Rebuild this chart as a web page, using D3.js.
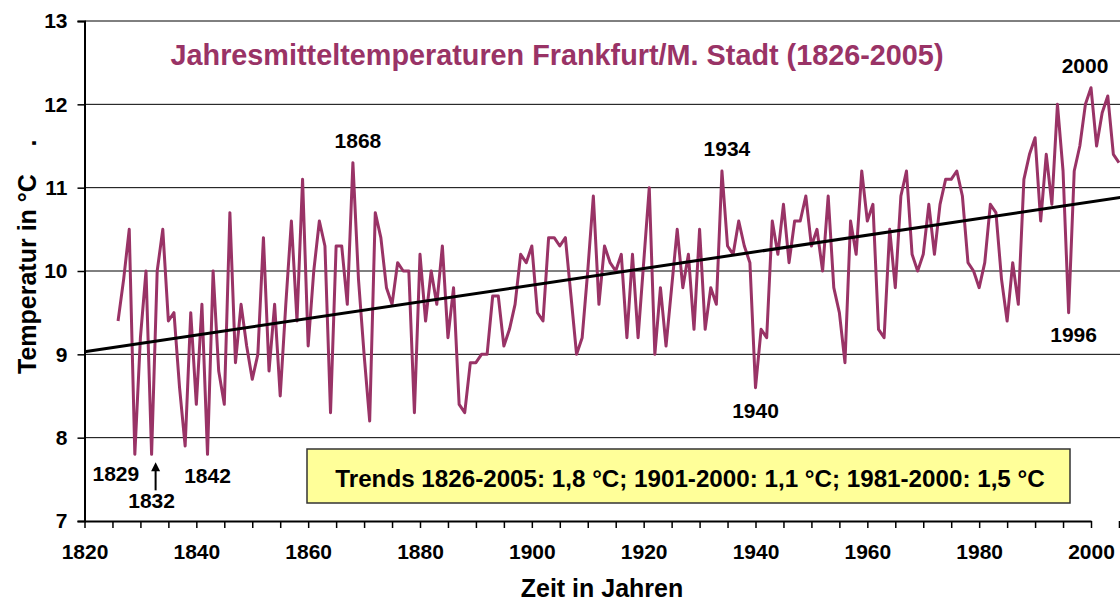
<!DOCTYPE html>
<html>
<head>
<meta charset="utf-8">
<script src="https://cdn.jsdelivr.net/npm/d3@7"></script>
<style>
  body { margin: 0; background: #fff; }
  svg { display: block; font-family: "Liberation Sans", Arial, sans-serif; font-weight: bold; }
</style>
</head>
<body>
<div id="chart"></div>
<script>
// yearly mean temperature Frankfurt/M. Stadt, 1826-2005
var firstYear = 1826;
var temps = [
  9.4, 9.9, 10.5, 7.8,
  9.2, 10.0, 7.8, 10.0, 10.5, 9.4, 9.5, 8.6, 7.9, 9.5,
  8.4, 9.6, 7.8, 10.0, 8.8, 8.4, 10.7, 8.9, 9.6, 9.1,
  8.7, 9.0, 10.4, 8.8, 9.6, 8.5, 9.6, 10.6, 9.4, 11.1,
  9.1, 10.0, 10.6, 10.3, 8.3, 10.3, 10.3, 9.6, 11.3, 9.9,
  9.0, 8.2, 10.7, 10.4, 9.8, 9.6, 10.1, 10.0, 10.0, 8.3,
  10.2, 9.4, 10.0, 9.6, 10.3, 9.2, 9.8, 8.4, 8.3, 8.9,
  8.9, 9.0, 9.0, 9.7, 9.7, 9.1, 9.3, 9.6, 10.2, 10.1,
  10.3, 9.5, 9.4, 10.4, 10.4, 10.3, 10.4, 9.7, 9.0, 9.2,
  10.0, 10.9, 9.6, 10.3, 10.1, 10.0, 10.2, 9.2, 10.2, 9.2,
  10.1, 11.0, 9.0, 9.8, 9.1, 9.8, 10.5, 9.8, 10.2, 9.3,
  10.5, 9.3, 9.8, 9.6, 11.2, 10.3, 10.2, 10.6, 10.3, 10.1,
  8.6, 9.3, 9.2, 10.6, 10.2, 10.8, 10.1, 10.6, 10.6, 10.9,
  10.3, 10.5, 10.0, 10.9, 9.8, 9.5, 8.9, 10.6, 10.2, 11.2,
  10.6, 10.8, 9.3, 9.2, 10.5, 9.8, 10.9, 11.2, 10.2, 10.0,
  10.2, 10.8, 10.2, 10.8, 11.1, 11.1, 11.2, 10.9, 10.1, 10.0,
  9.8, 10.1, 10.8, 10.7, 9.9, 9.4, 10.1, 9.6, 11.1, 11.4,
  11.6, 10.6, 11.4, 10.8, 12.0, 11.2, 9.5, 11.2, 11.5, 12.0,
  12.2, 11.5, 11.9, 12.1, 11.4, 11.3
];

// linear trend (end points)
var trendYears = [1820, 2010];
var trendTemps = [9.03, 10.93];

// axis ticks
var yTicks = [7, 8, 9, 10, 11, 12, 13];
var xLabelYears = [1820, 1840, 1860, 1880, 1900, 1920, 1940, 1960, 1980, 2000];

// marked extreme years
var markedYears = [1829, 1832, 1842, 1868, 1934, 1940, 1996, 2000];

var titleText = "Jahresmitteltemperaturen Frankfurt/M. Stadt (1826-2005)";
var boxText = "Trends 1826-2005: 1,8 °C; 1901-2000: 1,1 °C; 1981-2000: 1,5 °C";

var data = temps.map(function (t, i) { return { year: firstYear + i, temp: t }; });

var W = 1120, H = 601;
var purple = "#993366";

var svg = d3.select("#chart").append("svg")
  .attr("width", W)
  .attr("height", H);

// scales
var x = d3.scaleLinear().domain([1820, 2000]).range([84.5, 1091]);
var y = d3.scaleLinear().domain([7, 13]).range([521, 21]);
var xEnd = 1120;

// grid lines
svg.append("g").selectAll("line")
  .data(yTicks.filter(function (d) { return d > 7; }))
  .join("line")
  .attr("x1", x(1820)).attr("x2", xEnd)
  .attr("y1", function (d) { return y(d); })
  .attr("y2", function (d) { return y(d); })
  .attr("stroke", "#000")
  .attr("stroke-width", 1);

// y axis
var yAxis = svg.append("g")
  .attr("transform", "translate(" + x(1820) + ",0)")
  .call(d3.axisLeft(y).tickValues(yTicks).tickFormat(d3.format("d")).tickSize(7).tickPadding(10));
yAxis.select(".domain").attr("stroke", "#000").attr("stroke-width", 2);
yAxis.selectAll(".tick line").attr("stroke", "#000").attr("stroke-width", 1.5);
yAxis.selectAll("text").attr("font-size", 21).attr("font-family", null).attr("fill", "#000");

// x axis: minor ticks every 5 years, labels every 20
var xAxis = svg.append("g")
  .attr("transform", "translate(0," + y(7) + ")")
  .call(d3.axisBottom(x).tickValues(d3.range(1820, 2011, 5))
    .tickFormat(function (d) { return xLabelYears.indexOf(d) >= 0 ? d : ""; })
    .tickSize(7).tickSizeOuter(0).tickPadding(16));
xAxis.select(".domain").attr("stroke", "#000").attr("stroke-width", 2);
xAxis.selectAll(".tick line").attr("stroke", "#000").attr("stroke-width", 1.5);
xAxis.selectAll("text").attr("font-size", 21).attr("font-family", null).attr("fill", "#000");

// temperature line
svg.append("path")
  .datum(data)
  .attr("fill", "none")
  .attr("stroke", purple)
  .attr("stroke-width", 3)
  .attr("stroke-linejoin", "round")
  .attr("d", d3.line()
    .x(function (d) { return x(d.year); })
    .y(function (d) { return y(d.temp); }));

// trend line
svg.append("path")
  .datum(trendYears.map(function (yr, i) { return { year: yr, temp: trendTemps[i] }; }))
  .attr("fill", "none")
  .attr("stroke", "#000")
  .attr("stroke-width", 3)
  .attr("d", d3.line()
    .x(function (d) { return x(d.year); })
    .y(function (d) { return y(d.temp); }));

// labels of extreme years (offsets from their data point)
var labelOffset = {
  1829: [-19, 27], 1832: [0, 54], 1842: [0, 29], 1868: [5, -15],
  1934: [5, -15], 1940: [0, 30], 1996: [5, 29], 2000: [-6, -15]
};
svg.append("g").selectAll("text")
  .data(markedYears)
  .join("text")
  .attr("x", function (d) { return x(d) + labelOffset[d][0]; })
  .attr("y", function (d) { return y(temps[d - firstYear]) + labelOffset[d][1]; })
  .attr("text-anchor", "middle")
  .attr("font-size", 21)
  .attr("fill", "#000")
  .text(function (d) { return d; });

// arrow pointing at 1832
var ax = x(1832) + 4, ay = y(temps[1832 - firstYear]);
svg.append("line")
  .attr("x1", ax).attr("x2", ax)
  .attr("y1", ay + 14).attr("y2", ay + 36)
  .attr("stroke", "#000").attr("stroke-width", 2);
svg.append("path")
  .attr("d", "M" + ax + "," + (ay + 8) + " L" + (ax - 4.5) + "," + (ay + 17) + " L" + (ax + 4.5) + "," + (ay + 17) + " Z")
  .attr("fill", "#000");

// title
svg.append("text")
  .attr("x", 557)
  .attr("y", 65)
  .attr("text-anchor", "middle")
  .attr("font-size", 28.8)
  .attr("fill", purple)
  .text(titleText);

// trend box
svg.append("rect")
  .attr("x", 307).attr("y", 449)
  .attr("width", 763).attr("height", 54)
  .attr("fill", "#ffff99")
  .attr("stroke", "#333")
  .attr("stroke-width", 1.5);
svg.append("text")
  .attr("x", 690)
  .attr("y", 487)
  .attr("text-anchor", "middle")
  .attr("font-size", 24.2)
  .attr("fill", "#000")
  .text(boxText);

// axis titles
svg.append("text")
  .attr("x", 602)
  .attr("y", 597)
  .attr("text-anchor", "middle")
  .attr("font-size", 25)
  .attr("fill", "#000")
  .text("Zeit in Jahren");

svg.append("text")
  .attr("transform", "translate(36,374) rotate(-90)")
  .attr("text-anchor", "start")
  .attr("font-size", 25)
  .attr("fill", "#000")
  .text("Temperatur in °C\u00A0\u00A0\u00A0\u00A0.");
</script>
</body>
</html>
